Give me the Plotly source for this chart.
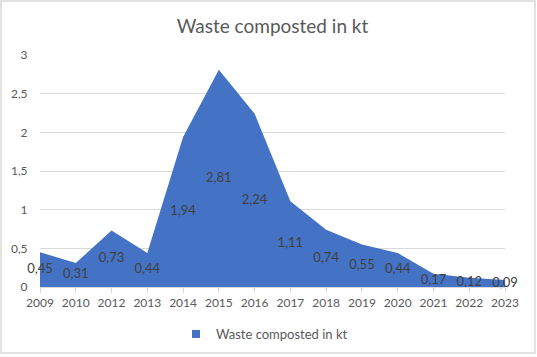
import plotly.graph_objects as go

years = ["2009", "2010", "2012", "2013", "2014", "2015", "2016", "2017",
         "2018", "2019", "2020", "2021", "2022", "2023"]
values = [0.45, 0.31, 0.73, 0.44, 1.94, 2.81, 2.24, 1.11,
          0.74, 0.55, 0.44, 0.17, 0.12, 0.09]
labels = [f"{v:.2f}".replace(".", ",") for v in values]
y_ticks = [0, 0.5, 1, 1.5, 2, 2.5, 3]
y_tick_text = [str(t).replace(".", ",") for t in y_ticks]
series_name = "Waste composted in kt"

BLUE = "#4472C4"
FONT = "Lato, Open Sans, sans-serif"

# right-align the y tick labels by padding the short ones
# (figure space + punctuation space match a digit and a comma)
y_tick_disp = [("\u2007\u2008" + t) if "," not in t else t
               for t in y_tick_text]

fig = go.Figure()
fig.add_trace(go.Scatter(
    x=years, y=values, mode="none", fill="tozeroy",
    fillcolor=BLUE, showlegend=False, hoverinfo="skip"))
fig.add_trace(go.Scatter(
    x=years, y=[v / 2 for v in values], mode="text", text=labels,
    textfont=dict(family=FONT, size=13, color="#404040"),
    cliponaxis=False, showlegend=False, hoverinfo="skip"))
fig.add_trace(go.Scatter(
    x=[None], y=[None], mode="markers", name=series_name,
    marker=dict(symbol="square", size=8, color=BLUE)))

W, H = 537, 357
ml, mr, mt, mb = 40, 32, 55, 70
pw, ph = W - ml - mr, H - mt - mb

fig.update_layout(
    width=W, height=H,
    margin=dict(l=ml, r=mr, t=mt, b=mb, autoexpand=False),
    paper_bgcolor="white", plot_bgcolor="white",
    font=dict(family=FONT, size=12, color="#595959"),
    title=dict(text=series_name, x=0.5, xref="paper", xanchor="center",
               y=1 - 26 / H, yanchor="middle", yref="container",
               font=dict(family=FONT, size=19, color="#595959")),
    xaxis=dict(type="category", range=[0, len(years) - 1],
               showgrid=False, showline=True, linecolor="#d9d9d9",
               ticks="outside", tickcolor="#d9d9d9", ticklen=5,
               tickfont=dict(size=12, color="#595959"), zeroline=False,
               automargin=False),
    yaxis=dict(range=[0, 3], tickvals=y_ticks, ticktext=y_tick_disp,
               side="left", tickangle=0,
               showgrid=True, gridcolor="#d9d9d9", zeroline=False,
               showline=False, ticks="outside", ticklen=9,
               tickcolor="rgba(0,0,0,0)",
               tickfont=dict(size=12, color="#595959"), automargin=False),
    legend=dict(orientation="h", x=0.5 - 8 / pw, xanchor="center",
                yref="container", y=1 - 334 / H, yanchor="middle",
                font=dict(size=13, color="#595959")),
    shapes=[dict(type="rect", xref="paper", yref="paper",
                 x0=-(ml - 1) / pw, x1=1 + (mr - 2) / pw,
                 y0=-(mb - 4) / ph, y1=1 + (mt - 1) / ph,
                 line=dict(color="#d9d9d9", width=1.5), layer="below")],
)

fig.write_html(
    "out.html",
    config={"displayModeBar": False},
    post_script="document.body.style.margin='0';"
                "document.body.style.overflow='hidden';",
)
